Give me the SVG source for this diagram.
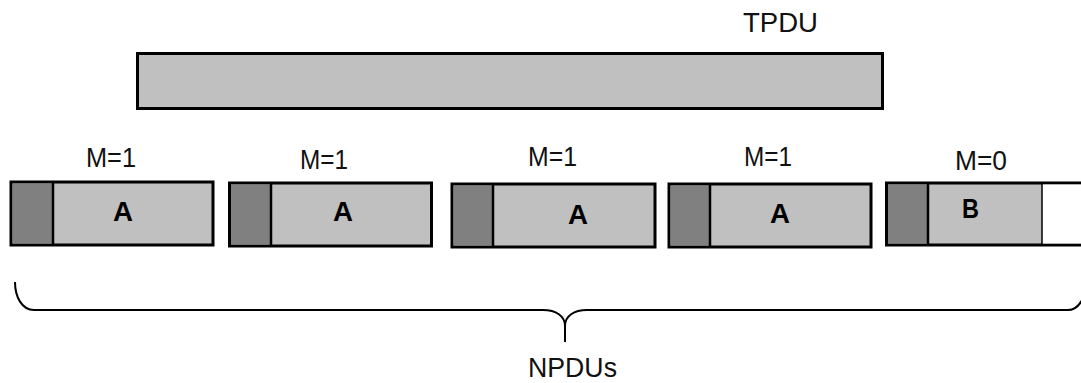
<svg xmlns="http://www.w3.org/2000/svg" width="1081" height="383" viewBox="0 0 1081 383">
<style>
.frame{fill:#c0c0c0;stroke:#000;stroke-width:3}
.hdr{fill:#808080;stroke:none}
.div{stroke:#000;stroke-width:2.5}
.lbl{font-family:"Liberation Sans",Arial,sans-serif;font-size:28px;fill:#111}
.big{font-family:"Liberation Sans",Arial,sans-serif;font-size:28px;font-weight:bold;fill:#000}
.brace{fill:none;stroke:#000;stroke-width:2}
</style>
<rect width="1081" height="383" fill="#fff"/>
<g id="tpdu">
<rect class="frame" x="137.5" y="53.5" width="745" height="55"/>
<text class="lbl" x="743" y="32" font-size="30" textLength="75" lengthAdjust="spacingAndGlyphs">TPDU</text>
</g>
<g id="npdu1">
<rect class="frame" x="11" y="182" width="202" height="63"/>
<rect class="hdr" x="12.5" y="183.5" width="40.5" height="60"/>
<line class="div" x1="53" y1="182" x2="53" y2="245"/>
<text class="big" x="113" y="221" textLength="20" lengthAdjust="spacingAndGlyphs">A</text>
<text class="lbl" x="86" y="167" textLength="50" lengthAdjust="spacingAndGlyphs">M=1</text>
</g>
<g id="npdu2">
<rect class="frame" x="229.5" y="183" width="202" height="63"/>
<rect class="hdr" x="231" y="184.5" width="40" height="60"/>
<line class="div" x1="271" y1="183" x2="271" y2="246"/>
<text class="big" x="333" y="221" textLength="20" lengthAdjust="spacingAndGlyphs">A</text>
<text class="lbl" x="300" y="169" textLength="48" lengthAdjust="spacingAndGlyphs">M=1</text>
</g>
<g id="npdu3">
<rect class="frame" x="452" y="184" width="203" height="63"/>
<rect class="hdr" x="453.5" y="185.5" width="39.5" height="60"/>
<line class="div" x1="493" y1="184" x2="493" y2="247"/>
<text class="big" x="568" y="224" textLength="20" lengthAdjust="spacingAndGlyphs">A</text>
<text class="lbl" x="528" y="166" textLength="49" lengthAdjust="spacingAndGlyphs">M=1</text>
</g>
<g id="npdu4">
<rect class="frame" x="669" y="184" width="202" height="63"/>
<rect class="hdr" x="670.5" y="185.5" width="39.5" height="60"/>
<line class="div" x1="710" y1="184" x2="710" y2="247"/>
<text class="big" x="770" y="223" textLength="20" lengthAdjust="spacingAndGlyphs">A</text>
<text class="lbl" x="744" y="166" textLength="48" lengthAdjust="spacingAndGlyphs">M=1</text>
</g>
<g id="npdu5">
<rect class="frame" x="886.5" y="183" width="200" height="62"/>
<rect class="hdr" x="888" y="184.5" width="40" height="59"/>
<rect x="1042" y="184.5" width="45" height="59" fill="#fff"/>
<line class="div" x1="928" y1="183" x2="928" y2="245"/>
<line x1="1042" y1="183" x2="1042" y2="245" stroke="#000" stroke-width="1.5"/>
<text class="big" x="962" y="218" textLength="17" lengthAdjust="spacingAndGlyphs">B</text>
<text class="lbl" x="955" y="170" textLength="52" lengthAdjust="spacingAndGlyphs">M=0</text>
</g>
<g id="connectors">
<path class="brace" d="M15,282 C15,297 22,310 34,310 L543,310 C556,310 565,316 565,326 L565,342 M565,326 C565,316 574,310 587,310 L1068,310 C1079,310 1086,297 1086,282"/>
</g>
<g id="npdus-label">
<text class="lbl" x="528" y="377" textLength="89" lengthAdjust="spacingAndGlyphs">NPDUs</text>
</g>
</svg>
